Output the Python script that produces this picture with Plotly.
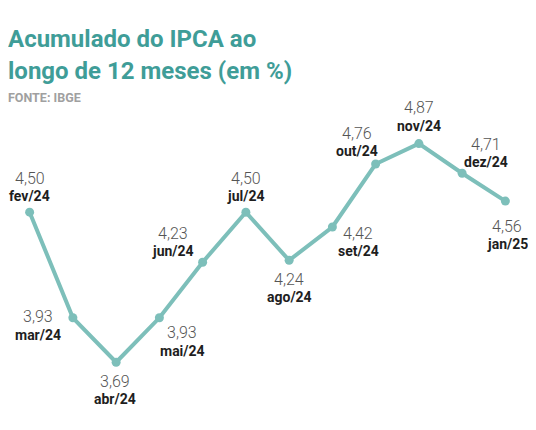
import plotly.graph_objects as go

meses = ["fev/24", "mar/24", "abr/24", "mai/24", "jun/24", "jul/24",
         "ago/24", "set/24", "out/24", "nov/24", "dez/24", "jan/25"]
ipca = [4.50, 3.93, 3.69, 3.93, 4.23, 4.50, 4.24, 4.42, 4.76, 4.87, 4.71, 4.56]

# label offsets (px) around each point: (xshift, yshift of the label block centre)
desloc = [(0, 25), (-35, -8), (-1, -28), (23, -24), (-30, 20), (0, 25),
          (0, -28), (26, -15), (-19, 22), (0, 27), (24, 20), (2, -34)]

verde = "#7dbfba"
titulo_cor = "#3f9d98"

x = list(range(len(meses)))

fig = go.Figure()
fig.add_trace(go.Scatter(
    x=x, y=ipca, mode="lines+markers",
    line=dict(color=verde, width=4),
    marker=dict(color=verde, size=9),
    hoverinfo="skip", showlegend=False,
))

for i, (m, v) in enumerate(zip(meses, ipca)):
    dx, dy = desloc[i]
    valor = f"{v:.2f}".replace(".", ",")
    # value (light) and month (bold) as two texts for tighter spacing
    fig.add_annotation(
        x=x[i], y=v, xref="x", yref="y", text=valor,
        showarrow=False, xanchor="center", yanchor="middle",
        xshift=dx, yshift=dy + 9,
        font=dict(family="Roboto", size=16, color="#555555", weight=300),
    )
    fig.add_annotation(
        x=x[i], y=v, xref="x", yref="y", text=f"<b>{m}</b>",
        showarrow=False, xanchor="center", yanchor="middle",
        xshift=dx, yshift=dy - 9,
        font=dict(family="Roboto", size=14, color="#1e1e1e"),
    )

# title, two lines placed separately to get the tight line spacing
for linha, dy in [("Acumulado do IPCA ao", 62), ("longo de 12 meses (em %)", 30)]:
    fig.add_annotation(
        text=f"<b>{linha}</b>", xref="paper", yref="paper",
        x=0, y=1, xanchor="left", yanchor="middle", xshift=-2, yshift=dy,
        showarrow=False, font=dict(family="Roboto", size=24, color=titulo_cor),
    )

fig.add_annotation(
    text="<b>FONTE: IBGE</b>", xref="paper", yref="paper",
    x=0, y=1, xanchor="left", yanchor="middle", xshift=-2, yshift=4,
    showarrow=False, font=dict(family="Roboto", size=12.5, color="#a0a0a0"),
)

fig.update_layout(
    width=536, height=430,
    margin=dict(l=0, r=17, t=93, b=22),
    paper_bgcolor="white", plot_bgcolor="white",
    xaxis=dict(range=[-0.5, 11.5], visible=False, fixedrange=True),
    yaxis=dict(range=[3.4, 5.1], visible=False, fixedrange=True),
)

fig.write_html("out.html")
